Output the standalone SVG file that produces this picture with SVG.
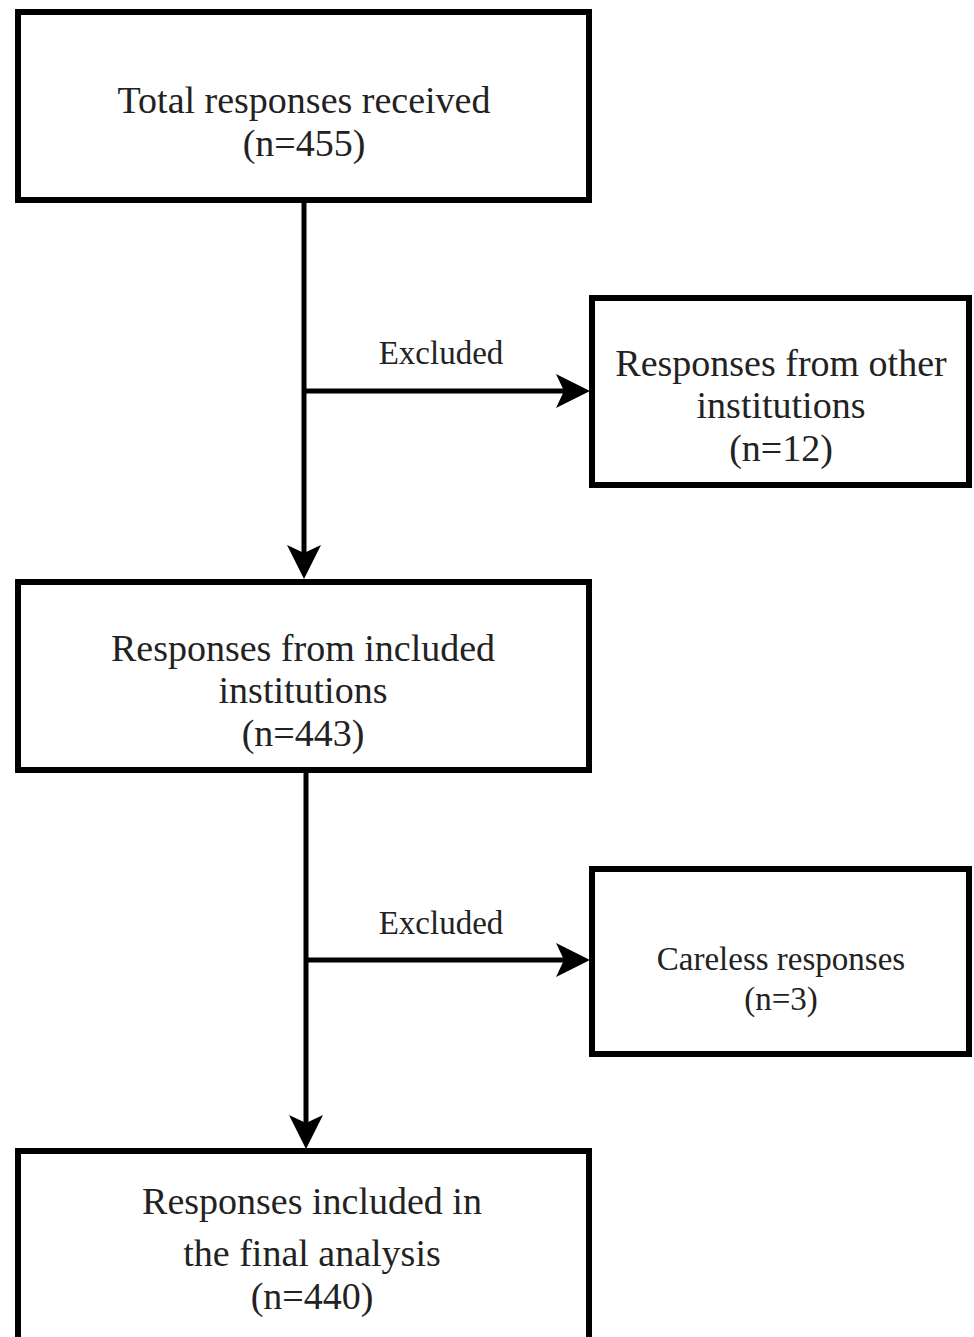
<svg xmlns="http://www.w3.org/2000/svg" width="974" height="1337" viewBox="0 0 974 1337">
<style>
.box{fill:#fff;stroke:#000;stroke-width:6}
.t{font-family:"Liberation Serif","Times New Roman",serif;font-size:38px;fill:#222;text-anchor:middle}
.s{font-size:33px}
.ln{stroke:#000;stroke-width:5;fill:none}
.ah{fill:#000}
</style>
<rect width="974" height="1337" fill="#fff"/>
<g id="connectors">
<line class="ln" x1="304" y1="203" x2="304" y2="560"/>
<polygon class="ah" points="304,579 287,545 304,553 321,545"/>
<line class="ln" x1="304" y1="391" x2="572" y2="391"/>
<polygon class="ah" points="590,391 556,374 564,391 556,408"/>
<text class="t s" x="441" y="364">Excluded</text>
<line class="ln" x1="306" y1="773" x2="306" y2="1130"/>
<polygon class="ah" points="306,1149 289,1115 306,1123 323,1115"/>
<line class="ln" x1="306" y1="960" x2="572" y2="960"/>
<polygon class="ah" points="590,960 556,943 564,960 556,977"/>
<text class="t s" x="441" y="934">Excluded</text>
</g>
<g id="n1">
<rect class="box" x="18" y="12" width="571" height="188"/>
<text class="t" x="304" y="113">Total responses received</text>
<text class="t" x="304" y="156">(n=455)</text>
</g>
<g id="n2">
<rect class="box" x="592" y="298" width="377" height="187"/>
<text class="t" x="781" y="376">Responses from other</text>
<text class="t" x="781" y="418">institutions</text>
<text class="t" x="781" y="461">(n=12)</text>
</g>
<g id="n3">
<rect class="box" x="18" y="582" width="571" height="188"/>
<text class="t" x="303" y="661">Responses from included</text>
<text class="t" x="303" y="703">institutions</text>
<text class="t" x="303" y="746">(n=443)</text>
</g>
<g id="n4">
<rect class="box" x="592" y="869" width="377" height="185"/>
<text class="t s" x="781" y="970">Careless responses</text>
<text class="t s" x="781" y="1010">(n=3)</text>
</g>
<g id="n5">
<rect class="box" x="18" y="1151" width="571" height="200"/>
<text class="t" x="312" y="1214">Responses included in</text>
<text class="t" x="312" y="1266">the final analysis</text>
<text class="t" x="312" y="1309">(n=440)</text>
</g>
</svg>
